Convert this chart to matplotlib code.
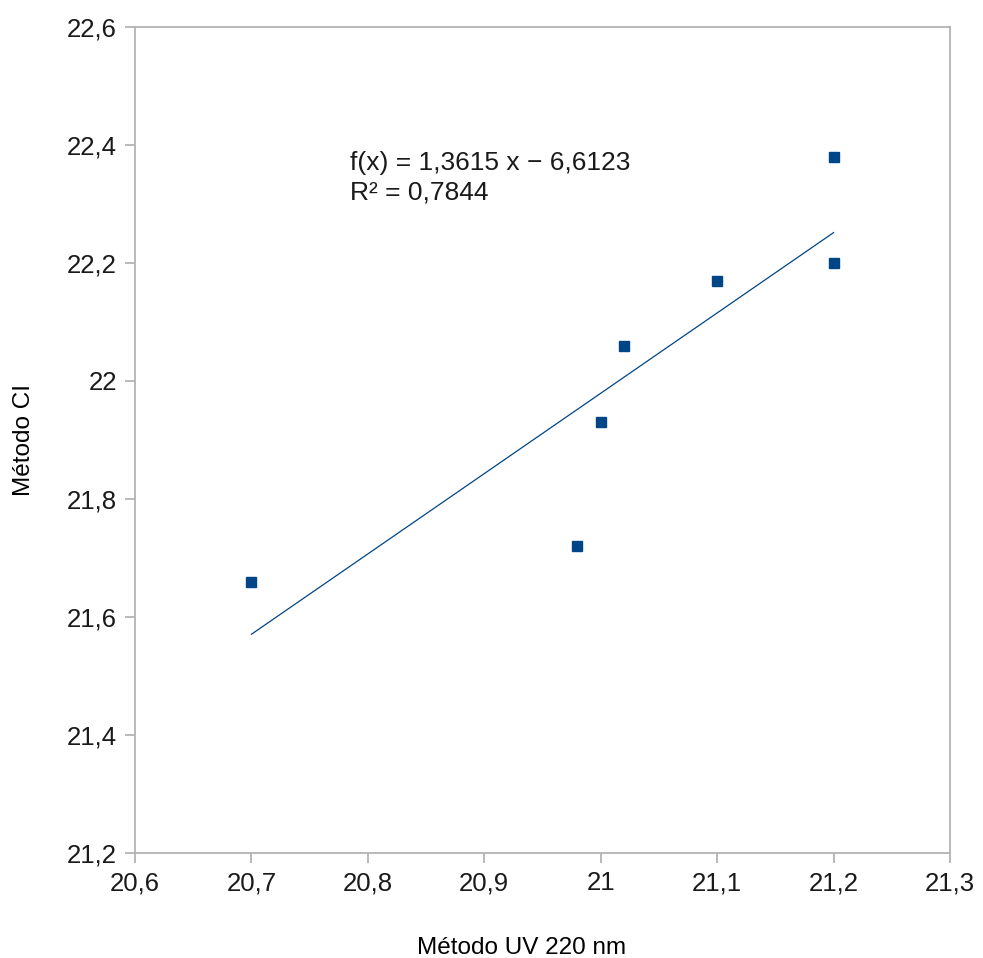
import numpy as np
import matplotlib
matplotlib.use('Agg')
import matplotlib.pyplot as plt
from matplotlib.ticker import FuncFormatter

plt.rcParams['font.family'] = ['Liberation Sans', 'DejaVu Sans']

uv = [20.7, 20.98, 21.0, 21.02, 21.1, 21.2, 21.2]
ci = [21.66, 21.72, 21.93, 22.06, 22.17, 22.2, 22.38]
slope = 1.3615
intercept = -6.6123
r2 = 0.7844

xticks = [20.6, 20.7, 20.8, 20.9, 21.0, 21.1, 21.2, 21.3]
yticks = [21.2, 21.4, 21.6, 21.8, 22.0, 22.2, 22.4, 22.6]

blue = '#004586'
gray = '#b3b3b3'

fig = plt.figure(figsize=(9.83, 9.58), dpi=100)
ax = fig.add_axes([135 / 983, 1 - 853 / 958, 815 / 983, 826 / 958])

ax.plot(uv, ci, 's', color=blue, ms=7, zorder=3)
xl = np.array([min(uv), max(uv)])
ax.plot(xl, slope * xl + intercept, color=blue, lw=0.9)

ax.set_xlim(20.6, 21.3)
ax.set_ylim(21.2, 22.6)
ax.set_xticks(xticks)
ax.set_yticks(yticks)


def comma(v, pos):
    s = ('%.1f' % v).rstrip('0').rstrip('.')
    return s.replace('.', ',')


ax.xaxis.set_major_formatter(FuncFormatter(comma))
ax.yaxis.set_major_formatter(FuncFormatter(comma))

for sp in ax.spines.values():
    sp.set_color(gray)
    sp.set_linewidth(1.3)
ax.tick_params(direction='out', length=7, width=1.3, color=gray,
               labelsize=18.5, pad=6, labelcolor='#1a1a1a')

ax.set_xlabel('Método UV 220 nm', fontsize=17.5)
ax.xaxis.label.set_va('center')
ax.xaxis.set_label_coords((522 - 135) / 815, -(948 - 853) / 826)
ax.set_ylabel('Método CI', fontsize=17.5)
ax.yaxis.label.set_va('center')
ax.yaxis.set_label_coords(-(135 - 24) / 815, 0.5)

eq = 'f(x) = %s x − %s\nR² = %s' % (
    ('%.4f' % slope).replace('.', ','),
    ('%.4f' % -intercept).replace('.', ','),
    ('%.4f' % r2).replace('.', ','))
ax.text(20.785, 22.39, eq, fontsize=19, va='top', ha='left',
        linespacing=1.3, color='#1a1a1a')

fig.savefig('out.png', dpi=100)
